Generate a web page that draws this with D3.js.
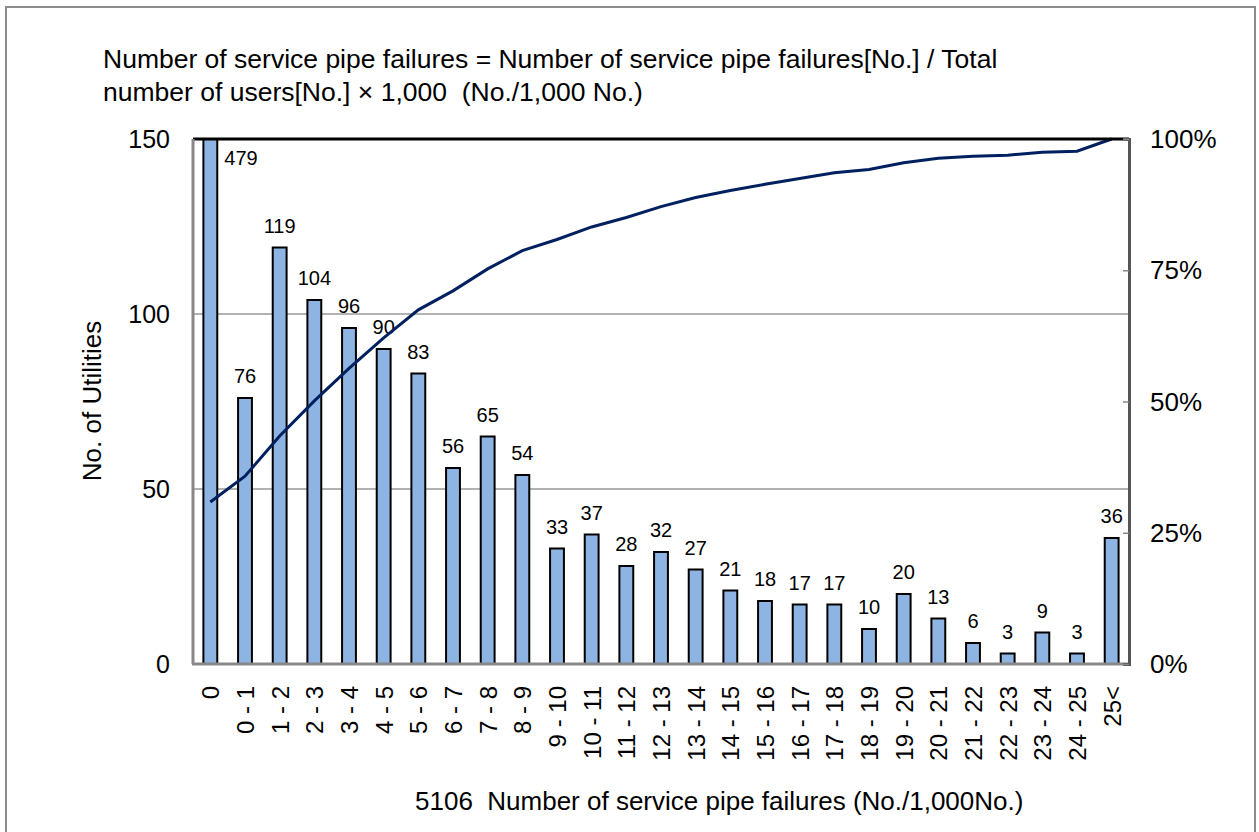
<!DOCTYPE html>
<html>
<head>
<meta charset="utf-8">
<script src="https://cdn.jsdelivr.net/npm/d3@7"></script>
<style>
  body { margin: 0; background: #fff; }
  text { font-family: "Liberation Sans", Arial, sans-serif; fill: #000; }
</style>
</head>
<body>
<div id="chart"></div>
<script>
// categories (No./1,000No.)
var categories = ['0', '0-1', '1-2', '2-3', '3-4', '4-5', '5-6', '6-7', '7-8', '8-9', '9-10',
  '10-11', '11-12', '12-13', '13-14', '14-15', '15-16', '16-17', '17-18', '18-19', '19-20',
  '20-21', '21-22', '22-23', '23-24', '24-25', '25<'];
// number of utilities
var counts = [479, 76, 119, 104, 96, 90, 83, 56, 65, 54, 33, 37, 28, 32, 27, 21, 18, 17, 17, 10,
  20, 13, 6, 3, 9, 3, 36];
var leftTicks = [0, 50, 100, 150];
var rightTicks = [0, 0.25, 0.5, 0.75, 1];

var width = 1259, height = 832;
// plot area edges
var pLeft = 193, pRight = 1129, pTop = 139, pBottom = 664;

var svg = d3.select('#chart').append('svg')
  .attr('width', width).attr('height', height);

// outer frame
svg.append('rect')
  .attr('x', 6).attr('y', 7).attr('width', 1249).attr('height', 840)
  .style('fill', 'none').style('stroke', '#8c8c8c').style('stroke-width', 2);

var x = d3.scaleBand().domain(categories).range([pLeft, pRight]).paddingInner(0.6).paddingOuter(0.3);
var y = d3.scaleLinear().domain([0, 150]).range([pBottom, pTop]);
var y2 = d3.scaleLinear().domain([0, 1]).range([pBottom, pTop]);

// cumulative share
var total = d3.sum(counts);
var cum = [];
var run = 0;
counts.forEach(function (d) { run += d; cum.push(run / total); });

// gridlines
svg.append('g')
  .selectAll('line')
  .data([50, 100])
  .enter()
  .append('line')
  .attr('x1', pLeft).attr('x2', pRight)
  .attr('y1', function (d) { return y(d); })
  .attr('y2', function (d) { return y(d); })
  .style('stroke', '#999').style('stroke-width', 1.5);

// bars
svg.append('g')
  .selectAll('rect')
  .data(counts)
  .enter()
  .append('rect')
  .attr('x', function (d, i) { return x(categories[i]); })
  .attr('y', function (d) { return y(Math.min(d, 150)); })
  .attr('width', x.bandwidth())
  .attr('height', function (d) { return y(0) - y(Math.min(d, 150)); })
  .style('fill', '#8DB4E2')
  .style('stroke', '#000')
  .style('stroke-width', 2);

// bar labels
svg.append('g')
  .selectAll('text')
  .data(counts)
  .enter()
  .append('text')
  .attr('x', function (d, i) {
    return d > 150 ? x(categories[i]) + x.bandwidth() + 7 : x(categories[i]) + x.bandwidth() / 2;
  })
  .attr('y', function (d) { return d > 150 ? y(150) + 26 : y(d) - 15; })
  .style('text-anchor', function (d) { return d > 150 ? 'start' : 'middle'; })
  .style('font-size', '20px')
  .text(function (d) { return d; });

// cumulative line
var line = d3.line()
  .x(function (d, i) { return x(categories[i]) + x.bandwidth() / 2; })
  .y(function (d) { return y2(d); });
svg.append('path')
  .datum(cum)
  .attr('d', line)
  .style('fill', 'none')
  .style('stroke', '#002060')
  .style('stroke-width', 3);

// plot frame
svg.append('line').attr('x1', pLeft).attr('x2', pRight).attr('y1', pTop).attr('y2', pTop)
  .style('stroke', '#000').style('stroke-width', 3);
svg.append('line').attr('x1', pLeft).attr('x2', pLeft).attr('y1', pTop).attr('y2', pBottom)
  .style('stroke', '#888').style('stroke-width', 3);
svg.append('line').attr('x1', pLeft - 1).attr('x2', pRight + 1).attr('y1', pBottom).attr('y2', pBottom)
  .style('stroke', '#888').style('stroke-width', 3);

// right axis with inward ticks
var rAxis = svg.append('g').attr('transform', 'translate(' + pRight + ',0)')
  .call(d3.axisLeft(y2).tickValues(rightTicks).tickSize(6).tickFormat(''));
rAxis.select('.domain').style('stroke', '#555').style('stroke-width', 3);
rAxis.selectAll('.tick line').style('stroke', '#888').style('stroke-width', 1.5);

svg.append('g')
  .selectAll('text')
  .data(rightTicks)
  .enter()
  .append('text')
  .attr('x', 1150)
  .attr('y', function (d) { return y2(d) + 9; })
  .style('font-size', '26px')
  .text(function (d) { return d3.format('.0%')(d); });

// left tick labels
svg.append('g')
  .selectAll('text')
  .data(leftTicks)
  .enter()
  .append('text')
  .attr('x', 170)
  .attr('y', function (d) { return y(d) + 9; })
  .style('text-anchor', 'end')
  .style('font-size', '25px')
  .text(function (d) { return d; });

// x tick labels, rotated
svg.append('g')
  .selectAll('text')
  .data(categories)
  .enter()
  .append('text')
  .attr('transform', function (d) {
    return 'translate(' + (x(d) + x.bandwidth() / 2 + 9) + ',686) rotate(-90)';
  })
  .style('text-anchor', 'end')
  .style('font-size', '24px')
  .text(function (d) { return d.replace('-', ' - '); });

// axis titles
svg.append('text')
  .attr('transform', 'translate(101,401) rotate(-90)')
  .style('text-anchor', 'middle')
  .style('font-size', '26px')
  .text('No. of Utilities');

svg.append('text')
  .attr('x', 415).attr('y', 810)
  .attr('xml:space', 'preserve')
  .style('font-size', '26px')
  .text('5106  Number of service pipe failures (No./1,000No.)');

// title
svg.append('text')
  .attr('x', 103).attr('y', 68)
  .style('font-size', '26.5px')
  .text('Number of service pipe failures = Number of service pipe failures[No.] / Total');
svg.append('text')
  .attr('x', 103).attr('y', 101)
  .style('font-size', '26.5px')
  .attr('xml:space', 'preserve')
  .text('number of users[No.] \u00d7 1,000  (No./1,000 No.)');
</script>
</body>
</html>
